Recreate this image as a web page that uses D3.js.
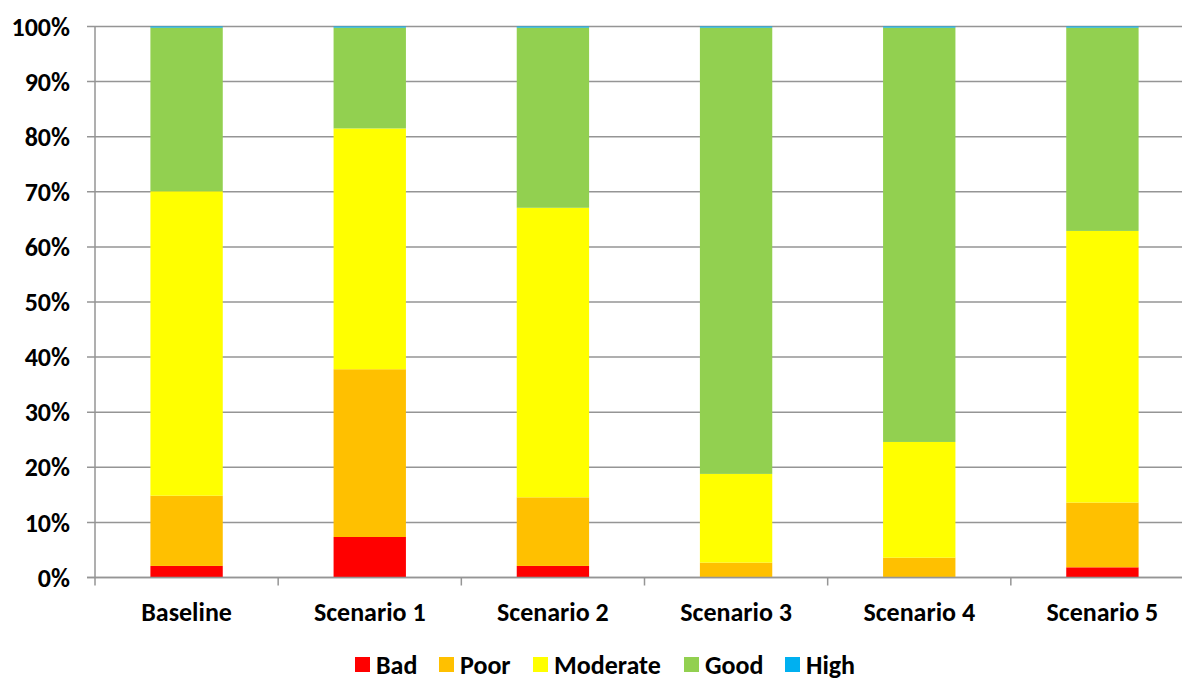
<!DOCTYPE html>
<html>
<head>
<meta charset="utf-8">
<script src="https://cdn.jsdelivr.net/npm/d3@7"></script>
<style>
  body { margin: 0; background: #fff; }
  svg { font-family: Carlito, Calibri, "Open Sans", sans-serif; font-weight: bold; }
</style>
</head>
<body>
<div id="chart"></div>
<script>
const categories = ['Baseline', 'Scenario 1', 'Scenario 2', 'Scenario 3', 'Scenario 4', 'Scenario 5'];
const classes = ['Bad', 'Poor', 'Moderate', 'Good', 'High'];
const colors = ['#ff0000', '#ffc000', '#ffff00', '#92d050', '#00b0f0'];

// shares per class, in %
const bad      = [2.1, 7.35, 2.1, 0.1, 0.1, 1.85];
const poor     = [12.75, 30.45, 12.45, 2.6, 3.5, 11.75];
const moderate = [55.25, 43.7, 52.55, 16.1, 21.0, 49.3];
const high     = [0.2, 0.2, 0.2, 0.2, 0.2, 0.2];
const good     = categories.map((c, i) => 100 - bad[i] - poor[i] - moderate[i] - high[i]);

const yTicks = [0, 10, 20, 30, 40, 50, 60, 70, 80, 90, 100];

const rows = categories.map((c, i) => ({
  cat: c, Bad: bad[i], Poor: poor[i], Moderate: moderate[i], Good: good[i], High: high[i]
}));

const width = 1182, height = 680;
const plotLeft = 95, plotRight = 1194, plotTop = 26.5, plotBottom = 577.5;
const fontSize = 26;

const svg = d3.select('#chart').append('svg')
  .attr('width', width)
  .attr('height', height);

const sx = d3.scaleBand()
  .domain(categories)
  .range([plotLeft, plotRight])
  .paddingInner(0.605)
  .paddingOuter(0.3025);

const sy = d3.scaleLinear()
  .domain([0, 100])
  .range([plotBottom, plotTop]);

// gridlines
svg.append('g')
  .selectAll('line')
  .data(yTicks)
  .enter()
  .append('line')
  .attr('x1', plotLeft - 8)
  .attr('x2', plotRight)
  .attr('y1', d => sy(d))
  .attr('y2', d => sy(d))
  .attr('stroke', '#959595')
  .attr('stroke-width', 1.5);

// y labels
svg.append('g')
  .selectAll('text')
  .data(yTicks)
  .enter()
  .append('text')
  .attr('x', plotLeft - 25)
  .attr('y', d => sy(d))
  .attr('dy', '0.35em')
  .attr('text-anchor', 'end')
  .attr('font-size', fontSize)
  .text(d => d + '%');

const stack = d3.stack().keys(classes);
const series = stack(rows);

svg.append('g')
  .selectAll('g')
  .data(series)
  .enter()
  .append('g')
  .attr('fill', (d, i) => colors[i])
  .selectAll('rect')
  .data(d => d)
  .enter()
  .append('rect')
  .attr('x', d => sx(d.data.cat))
  .attr('width', sx.bandwidth())
  .attr('y', d => sy(d[1]))
  .attr('height', d => sy(d[0]) - sy(d[1]));

// y axis line
svg.append('line')
  .attr('x1', plotLeft).attr('x2', plotLeft)
  .attr('y1', plotTop).attr('y2', plotBottom + 8)
  .attr('stroke', '#959595')
  .attr('stroke-width', 1.5);

// x axis line and ticks between categories
svg.append('line')
  .attr('x1', plotLeft - 8).attr('x2', plotRight)
  .attr('y1', plotBottom).attr('y2', plotBottom)
  .attr('stroke', '#959595')
  .attr('stroke-width', 1.5);

const step = sx.step();
svg.append('g')
  .selectAll('line')
  .data(d3.range(1, categories.length + 1))
  .enter()
  .append('line')
  .attr('x1', i => plotLeft + i * step)
  .attr('x2', i => plotLeft + i * step)
  .attr('y1', plotBottom)
  .attr('y2', plotBottom + 8)
  .attr('stroke', '#959595')
  .attr('stroke-width', 1.5);

// category labels
svg.append('g')
  .selectAll('text')
  .data(categories)
  .enter()
  .append('text')
  .attr('x', d => sx(d) + sx.bandwidth() / 2)
  .attr('y', 621)
  .attr('text-anchor', 'middle')
  .attr('font-size', fontSize)
  .text(d => d);

// legend
const legendX = [355, 439, 533, 684, 785];
const legend = svg.append('g')
  .selectAll('g')
  .data(classes)
  .enter()
  .append('g')
  .attr('transform', (d, i) => 'translate(' + legendX[i] + ',657)');

legend.append('rect')
  .attr('width', 15)
  .attr('height', 15)
  .attr('fill', (d, i) => colors[i]);

legend.append('text')
  .attr('x', 21)
  .attr('y', 7.5)
  .attr('dy', '0.35em')
  .attr('font-size', fontSize)
  .text(d => d);
</script>
</body>
</html>
